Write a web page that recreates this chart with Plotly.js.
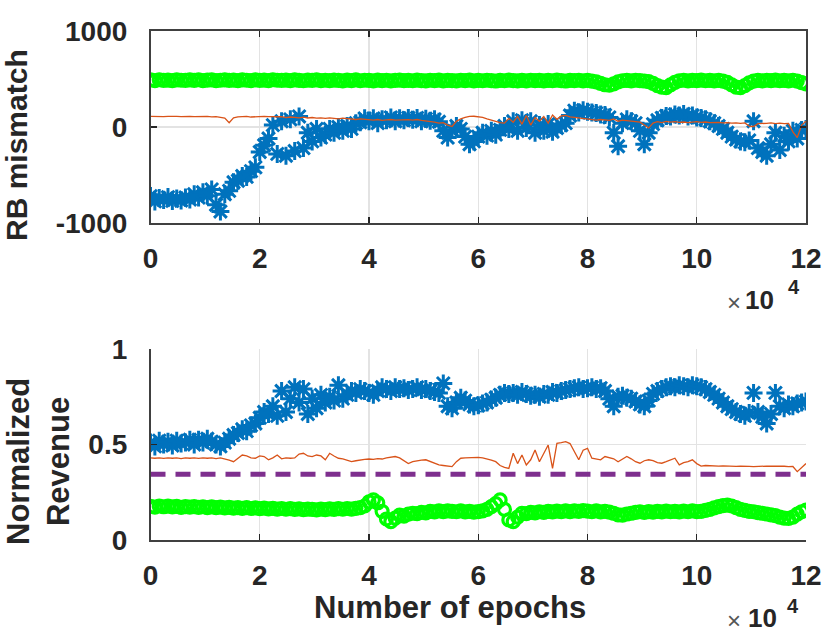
<!DOCTYPE html>
<html>
<head>
<meta charset="utf-8">
<script src="https://cdn.plot.ly/plotly-3.0.1.min.js"></script>
<style>
  html, body { margin: 0; padding: 0; background: #ffffff; }
  #chart { width: 830px; height: 633px; }
</style>
</head>
<body>
<div id="chart"></div>
<script>
// ---- data -------------------------------------------------------------
// sampling grid: one sample every 800 epochs, 0 .. 120000
const epochs = [];
for (let e = 0; e <= 120000; e += 800) epochs.push(e);

const xTickVals = [0, 20000, 40000, 60000, 80000, 100000, 120000];
const xTickText = ['0', '2', '4', '6', '8', '10', '12'];
const topTickVals = [-1000, 0, 1000];
const topTickText = ['-1000', '0', '1000'];
const botTickVals = [0, 0.5, 1];
const botTickText = ['0', '0.5', '1'];

// RB mismatch (top panel)
const rbBlue = [
  -720, -775, -740, -760, -730, -770, -745, -765, -735, -755,
  -700, -735, -680, -715, -650, -810, -880, -700, -665, -575,
  -560, -510, -520, -460, -420, -260, -190, -120, 20, -280,
  60, -300, 80, -250, 110, -220, -60, -150, -20, -110,
  -80, -20, -60, 0, -40, 10, -20, 40, 50, 90,
  60, 90, 40, 80, 70, 100, 60, 90, 70, 95,
  75, 95, 60, 85, 65, 80, 55, -40, -110, -30,
  10, -20, -100, -180, -150, -100, -60, -90, -40, -80,
  -30, 10, -20, 60, -40, 70, -10, 60, -60, 20,
  -40, 30, -50, -10, 20, 40, 120, 170, 150, 175,
  160, 150, 145, 130, 125, 100, -60, -200, 40, 80,
  60, 40, -40, -180, -60, 30, 70, 95, 115, 110,
  130, 120, 135, 110, 120, 100, 95, 80, 60, 40,
  10, -20, -60, -100, -130, -150, -160, -140, 60, -220,
  -260, -300, -180, -60, -240, -90, -150, -40, -120, -30, -20
];
const rbGreen = [
  490, 484, 492, 486, 489, 483, 491, 487, 485, 490,
  486, 492, 484, 488, 490, 483, 487, 491, 485, 489,
  484, 490, 487, 483, 491, 486, 488, 484, 492, 487,
  485, 489, 483, 490, 486, 482, 488, 485, 491, 484,
  487, 483, 489, 486, 480, 488, 484, 490, 482, 487,
  485, 480, 488, 483, 487, 481, 486, 489, 483, 485,
  482, 488, 484, 480, 487, 483, 489, 481, 486, 484,
  480, 487, 483, 488, 481, 485, 482, 487, 484, 479,
  486, 482, 488, 483, 480, 486, 481, 487, 483, 485,
  480, 486, 482, 488, 484, 479, 486, 483, 487, 481,
  485, 478, 470, 455, 440, 435, 450, 470, 482, 486,
  480, 487, 483, 479, 472, 455, 430, 415, 410, 440,
  465, 482, 487, 481, 486, 483, 488, 482, 485, 480,
  486, 478, 465, 440, 415, 410, 430, 460, 478, 486,
  481, 487, 483, 488, 482, 486, 480, 487, 478, 462, 450
];
const rbOrange = [
  110, 108, 112, 109, 111, 107, 110, 108, 112, 110,
  109, 111, 107, 110, 106, 108, 100, 92, 45, 95,
  105, 108, 110, 104, 107, 109, 111, 108, 106, 110,
  107, 98, 104, 100, 96, 102, 94, 99, 92, 96,
  90, 95, 88, 84, 92, 86, 80, 78, 84, 80,
  76, 72, 78, 70, 74, 78, 72, 75, 80, 76,
  72, 78, 70, 65, 60, 50, 40, 45, 20, 5,
  60, 85, 100, 110, 112, 108, 100, 85, 70, 55,
  45, 40, 90, 50, 110, 30, 120, 20, 100, 60,
  110, 40, 125, 80, 115, 120, 105, 100, 95, 90,
  80, 76, 72, 78, 75, 70, 85, 60, 72, 65,
  60, 55, 50, 20, -10, 40, 55, 45, 58, 50,
  55, 48, 52, 45, 50, 55, 48, 52, 45, 50,
  48, 42, 45, 40, 44, 38, 42, 10, 5, 35,
  40, 38, 42, 36, 40, 35, 38, -50, -110, 20, 60
];

// Normalized revenue (bottom panel)
const revBlue = [
  0.51, 0.49, 0.52, 0.50, 0.515, 0.495, 0.52, 0.505, 0.51, 0.525,
  0.50, 0.525, 0.51, 0.53, 0.515, 0.50, 0.49, 0.51, 0.53, 0.55,
  0.56, 0.58, 0.57, 0.60, 0.61, 0.64, 0.67, 0.66, 0.70, 0.65,
  0.78, 0.67, 0.74, 0.80, 0.72, 0.79, 0.66, 0.74, 0.69, 0.76,
  0.72, 0.75, 0.73, 0.81, 0.74, 0.76, 0.78, 0.77, 0.79, 0.78,
  0.77, 0.76, 0.78, 0.80, 0.79, 0.78, 0.80, 0.79, 0.795, 0.785,
  0.79, 0.80, 0.785, 0.79, 0.78, 0.775, 0.77, 0.82, 0.70, 0.69,
  0.72, 0.745, 0.73, 0.71, 0.70, 0.705, 0.715, 0.72, 0.735, 0.745,
  0.76, 0.77, 0.765, 0.77, 0.76, 0.775, 0.765, 0.755, 0.76, 0.75,
  0.765, 0.76, 0.775, 0.77, 0.78, 0.785, 0.79, 0.795, 0.80, 0.79,
  0.795, 0.80, 0.79, 0.795, 0.78, 0.74, 0.70, 0.75, 0.755, 0.745,
  0.74, 0.725, 0.71, 0.70, 0.73, 0.765, 0.78, 0.79, 0.80, 0.805,
  0.80, 0.81, 0.805, 0.80, 0.81, 0.805, 0.80, 0.79, 0.775, 0.76,
  0.74, 0.72, 0.70, 0.685, 0.67, 0.66, 0.65, 0.665, 0.77, 0.67,
  0.645, 0.61, 0.66, 0.77, 0.70, 0.69, 0.71, 0.70, 0.715, 0.72, 0.725
];
const revOrange = [
  0.43, 0.428, 0.43, 0.427, 0.43, 0.428, 0.43, 0.426, 0.43, 0.428,
  0.43, 0.427, 0.43, 0.428, 0.43, 0.426, 0.43, 0.425, 0.418, 0.41,
  0.43, 0.445, 0.44, 0.43, 0.428, 0.44, 0.437, 0.42, 0.43, 0.445,
  0.425, 0.43, 0.428, 0.43, 0.45, 0.454, 0.44, 0.437, 0.445, 0.44,
  0.42, 0.454, 0.44, 0.428, 0.425, 0.418, 0.41, 0.415, 0.42, 0.422,
  0.424, 0.422, 0.426, 0.424, 0.43, 0.435, 0.437, 0.43, 0.415, 0.40,
  0.41, 0.415, 0.418, 0.42, 0.41, 0.40, 0.393, 0.39, 0.386, 0.384,
  0.41, 0.428, 0.43, 0.432, 0.433, 0.433, 0.43, 0.425, 0.418, 0.41,
  0.39, 0.38, 0.375, 0.454, 0.40, 0.445, 0.393, 0.42, 0.471, 0.41,
  0.45, 0.497, 0.375, 0.506, 0.51, 0.515, 0.505, 0.46, 0.42, 0.47,
  0.48, 0.428, 0.425, 0.42, 0.437, 0.43, 0.425, 0.41, 0.425, 0.437,
  0.425, 0.41, 0.402, 0.415, 0.42, 0.415, 0.405, 0.402, 0.41, 0.42,
  0.428, 0.393, 0.405, 0.41, 0.42, 0.40, 0.387, 0.39, 0.388, 0.387,
  0.387, 0.388, 0.386, 0.387, 0.385, 0.386, 0.387, 0.385, 0.384, 0.386,
  0.385, 0.387, 0.386, 0.387, 0.385, 0.386, 0.384, 0.385, 0.358, 0.38, 0.40
];
const revGreen = [
  0.176, 0.172, 0.178, 0.174, 0.177, 0.173, 0.176, 0.171, 0.175, 0.172,
  0.175, 0.171, 0.174, 0.170, 0.173, 0.169, 0.172, 0.168, 0.171, 0.167,
  0.170, 0.166, 0.169, 0.165, 0.168, 0.164, 0.167, 0.163, 0.166, 0.162,
  0.165, 0.161, 0.164, 0.160, 0.163, 0.159, 0.162, 0.160, 0.158, 0.162,
  0.159, 0.163, 0.160, 0.164, 0.161, 0.165, 0.162, 0.166, 0.170, 0.178,
  0.200, 0.210, 0.195, 0.150, 0.110, 0.096, 0.115, 0.130, 0.125, 0.135,
  0.140, 0.138, 0.145, 0.142, 0.150, 0.147, 0.152, 0.149, 0.153, 0.150,
  0.148, 0.152, 0.147, 0.150, 0.146, 0.149, 0.152, 0.160, 0.175, 0.190,
  0.210, 0.160, 0.105, 0.096, 0.120, 0.140, 0.138, 0.145, 0.142, 0.148,
  0.145, 0.150, 0.147, 0.151, 0.148, 0.152, 0.149, 0.153, 0.150, 0.154,
  0.151, 0.148, 0.152, 0.147, 0.150, 0.146, 0.140, 0.132, 0.130, 0.136,
  0.140, 0.145, 0.148, 0.144, 0.149, 0.146, 0.150, 0.147, 0.151, 0.148,
  0.150, 0.147, 0.151, 0.148, 0.152, 0.149, 0.150, 0.155, 0.160, 0.168,
  0.175, 0.180, 0.183, 0.178, 0.170, 0.160, 0.155, 0.150, 0.148, 0.143,
  0.140, 0.136, 0.132, 0.128, 0.120, 0.115, 0.113, 0.120, 0.135, 0.148, 0.157
];
const baselineX = [0, 120000];
const baselineRevenue = [0.344, 0.344];

// ---- styles -----------------------------------------------------------
const BLUE = '#0072BD', ORANGE = '#D95319', GREEN = '#00FF00', PURPLE = '#7E2F8E';
const AX = '#262626';
const FONT = '"Liberation Sans", Arial, Helvetica, sans-serif';

function blueTrace(y, xa, ya) {
  return { x: epochs, y: y, xaxis: xa, yaxis: ya, type: 'scatter', mode: 'markers',
    marker: { symbol: 'asterisk-open', size: 15, color: BLUE, line: { color: BLUE, width: 3 } } };
}
function greenTrace(y, xa, ya) {
  return { x: epochs, y: y, xaxis: xa, yaxis: ya, type: 'scatter', mode: 'markers',
    marker: { symbol: 'circle-open', size: 12, color: GREEN, line: { color: GREEN, width: 3.2 } } };
}
function orangeTrace(y, xa, ya) {
  return { x: epochs, y: y, xaxis: xa, yaxis: ya, type: 'scatter', mode: 'lines',
    line: { color: ORANGE, width: 1.3 } };
}
function emptyTrace(xa, ya) {
  return { x: [], y: [], xaxis: xa, yaxis: ya, type: 'scatter', mode: 'markers', showlegend: false };
}

const data = [
  blueTrace(rbBlue, 'x', 'y'),
  greenTrace(rbGreen, 'x', 'y'),
  orangeTrace(rbOrange, 'x', 'y'),
  blueTrace(revBlue, 'x2', 'y2'),
  greenTrace(revGreen, 'x2', 'y2'),
  orangeTrace(revOrange, 'x2', 'y2'),
  { x: baselineX, y: baselineRevenue, xaxis: 'x2', yaxis: 'y2', type: 'scatter', mode: 'lines',
    line: { color: PURPLE, width: 5, dash: '15px,10px' } },
  emptyTrace('x3', 'y3'),
  emptyTrace('x4', 'y4')
];

const tickFont = { family: FONT, size: 28, color: AX, weight: 'bold' };
const xDomain = [150.5 / 830, 806 / 830];
const topDomain = [1 - 223 / 633, 1 - 31 / 633];
const botDomain = [1 - 540 / 633, 1 - 349 / 633];
const CLEAR = 'rgba(0,0,0,0)';

// label axes: invisible outside ticks push the labels away from the frame
function xAxis(anchor, mirror) {
  return { domain: xDomain, anchor: anchor, range: [0, 120000], tickmode: 'array',
    tickvals: xTickVals, ticktext: xTickText, ticks: 'outside', ticklen: 10, tickcolor: CLEAR,
    showline: true, linecolor: '#404040', linewidth: 1.6, mirror: mirror,
    showgrid: true, gridcolor: '#e3e3e3', gridwidth: 1.2, zeroline: false,
    tickfont: tickFont, fixedrange: true };
}
function yAxis(anchor, domain, range, vals, text, mirror) {
  return { domain: domain, anchor: anchor, range: range, tickmode: 'array',
    tickvals: vals, ticktext: text, ticks: 'outside', ticklen: 16, tickcolor: CLEAR,
    showline: true, linecolor: '#404040', linewidth: 1.6, mirror: mirror,
    showgrid: true, gridcolor: '#e3e3e3', gridwidth: 1.2, zeroline: false,
    tickfont: tickFont, fixedrange: true };
}
// tick axes: visible inside ticks only
function xTicks(over, anchor, mirror) {
  return { overlaying: over, anchor: anchor, domain: xDomain, range: [0, 120000], tickmode: 'array',
    tickvals: xTickVals, ticks: 'inside', ticklen: 6, tickwidth: 1.2, tickcolor: AX,
    mirror: mirror, showline: false, showgrid: false, zeroline: false, showticklabels: false,
    fixedrange: true };
}
function yTicks(over, anchor, domain, range, vals, mirror) {
  return { overlaying: over, anchor: anchor, domain: domain, range: range, tickmode: 'array',
    tickvals: vals, ticks: 'inside', ticklen: 6, tickwidth: 1.2, tickcolor: AX,
    mirror: mirror, showline: false, showgrid: false, zeroline: false, showticklabels: false,
    fixedrange: true };
}

function ann(text, px, py, size, opts) {
  return Object.assign({ text: text, xref: 'paper', yref: 'paper', x: px / 830, y: 1 - py / 633,
    xanchor: 'center', yanchor: 'middle', showarrow: false,
    font: { family: FONT, size: size, color: AX, weight: 'bold' } }, opts || {});
}

const layout = {
  width: 830, height: 633,
  margin: { l: 0, r: 0, t: 0, b: 0 },
  paper_bgcolor: '#ffffff', plot_bgcolor: '#ffffff',
  showlegend: false, hovermode: false,
  xaxis: xAxis('y', true),
  yaxis: yAxis('x', topDomain, [-1000, 1000], topTickVals, topTickText, true),
  xaxis2: xAxis('y2', false),
  yaxis2: yAxis('x2', botDomain, [0, 1], botTickVals, botTickText, false),
  xaxis3: xTicks('x', 'y3', 'ticks'),
  yaxis3: yTicks('y', 'x3', topDomain, [-1000, 1000], topTickVals, 'ticks'),
  xaxis4: xTicks('x2', 'y4', false),
  yaxis4: yTicks('y2', 'x4', botDomain, [0, 1], botTickVals, false),
  annotations: [
    ann('RB mismatch', 17, 145, 30, { textangle: -90 }),
    ann('Normalized<br>Revenue', 38, 462, 31, { textangle: -90 }),
    ann('Number of epochs', 450, 607, 31),
    ann('×', 734, 302, 24, { font: { family: FONT, size: 24, color: '#555555', weight: 'normal' } }),
    ann('10', 759, 300, 26),
    ann('4', 794, 287, 20),
    ann('×', 734, 620, 24, { font: { family: FONT, size: 24, color: '#555555', weight: 'normal' } }),
    ann('10', 762, 618, 26),
    ann('4', 793, 606, 20)
  ]
};

Plotly.newPlot('chart', data, layout, { displayModeBar: false, staticPlot: true });
</script>
</body>
</html>
